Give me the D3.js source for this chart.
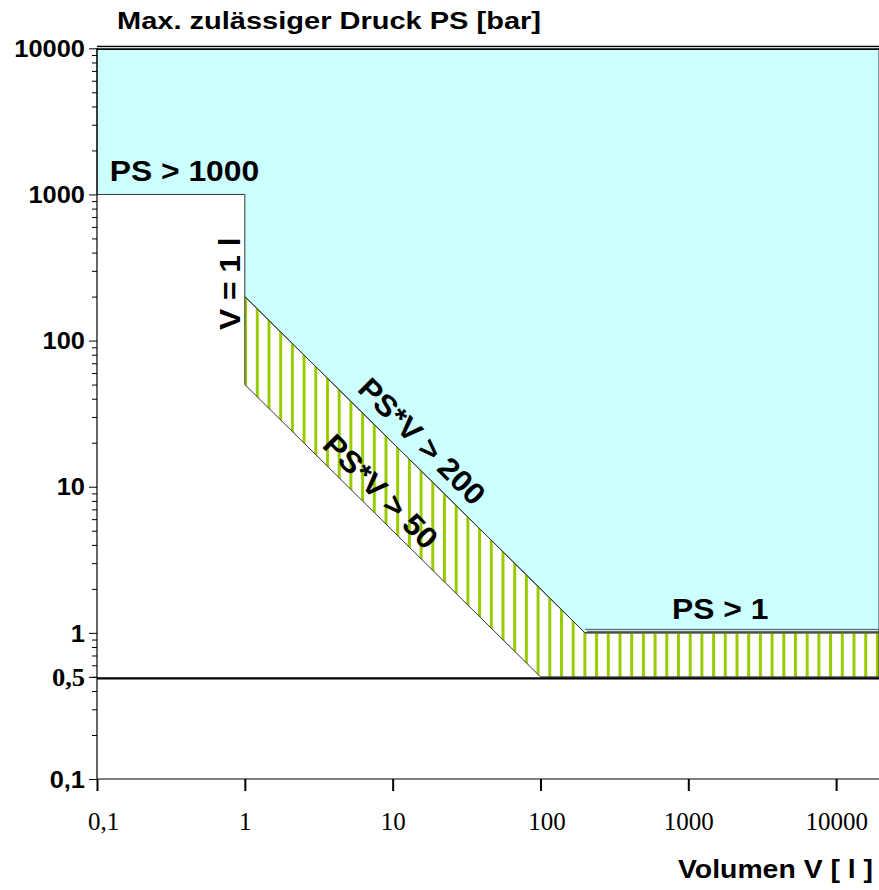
<!DOCTYPE html>
<html>
<head>
<meta charset="utf-8">
<script src="https://cdn.jsdelivr.net/npm/d3@7"></script>
<style>
  body { margin: 0; background: #fff; }
  svg { display: block; }
  .bold { font-family: "Liberation Sans", Arial, sans-serif; font-weight: bold; }
  .serif { font-family: "Liberation Serif", "Times New Roman", serif; }
</style>
</head>
<body>
<svg width="879" height="890"></svg>
<script>
// region outlines (Volumen V, Druck PS)
var cyanV  = [0.1, 19500, 19500, 200, 1, 1, 0.1];
var cyanPS = [10000, 10000, 1, 1, 200, 1000, 1000];
var hatchV  = [1, 200, 19500, 19500, 100, 1];
var hatchPS = [200, 1, 1, 0.5, 0.5, 50];

var xTicks = [0.1, 1, 10, 100, 1000, 10000];
var xTickLabels = ["0,1", "1", "10", "100", "1000", "10000"];
var yTicks = [10000, 1000, 100, 10, 1, 0.5, 0.1];
var yTickLabels = ["10000", "1000", "100", "10", "1", "0,5", "0,1"];

// annotations: text + anchor in data space
var labels = [
  {text: "PS > 1000", v: 0.122, ps: 1240, rot: 0, anchor: "start"},
  {text: "V = 1 l", v: 0.93, ps: 245, rot: -90, anchor: "middle"},
  {text: "PS*V > 200", v: 15.8, ps: 20.5, rot: 45, anchor: "middle", central: true},
  {text: "PS*V > 50", v: 8.3, ps: 9.3, rot: 45, anchor: "middle", central: true},
  {text: "PS > 1", v: 776, ps: 1.245, rot: 0, anchor: "start"}
];

var svg = d3.select("svg");

var x = d3.scaleLog().domain([0.1, 19500]).range([97, 879]);
var y = d3.scaleLog().domain([0.1, 10000]).range([779, 48.3]);

// stretch text horizontally like the original drawing
function stretch(sel, k) {
  sel.each(function() {
    var w = this.getComputedTextLength();
    d3.select(this).attr("textLength", w * k).attr("lengthAdjust", "spacingAndGlyphs");
  });
}

var defs = svg.append("defs");
var pat = defs.append("pattern")
    .attr("id", "hatch")
    .attr("patternUnits", "userSpaceOnUse")
    .attr("x", 255.8).attr("y", 0)
    .attr("width", 11.7).attr("height", 10);
pat.append("rect")
    .attr("x", 0).attr("y", 0)
    .attr("width", 3).attr("height", 10)
    .attr("fill", "#99cc00");

var line = d3.line()
    .x(function(d) { return x(d[0]); })
    .y(function(d) { return y(d[1]); });

var cyanPts = d3.zip(cyanV, cyanPS);
var hatchPts = d3.zip(hatchV, hatchPS);

svg.append("path")
    .attr("d", line(cyanPts) + "Z")
    .attr("fill", "#ccffff")
    .attr("stroke", "#333")
    .attr("stroke-width", 1);

svg.append("path")
    .attr("d", line(hatchPts) + "Z")
    .attr("fill", "url(#hatch)")
    .attr("stroke", "#333")
    .attr("stroke-width", 1);

// hatch top edge sits a little below the cyan edge along PS = 1
svg.append("line")
    .attr("x1", x(200) + 2).attr("x2", x(19500))
    .attr("y1", y(1) - 1.5).attr("y2", y(1) - 1.5)
    .attr("stroke", "#555").attr("stroke-width", 1);
svg.append("line")
    .attr("x1", x(200)).attr("x2", x(19500))
    .attr("y1", y(1) - 3.5).attr("y2", y(1) - 3.5)
    .attr("stroke", "#555").attr("stroke-width", 1);

// double line at top (10000)
svg.append("line")
    .attr("x1", x(0.1)).attr("x2", x(19500))
    .attr("y1", y(10000) - 2).attr("y2", y(10000) - 2)
    .attr("stroke", "#000").attr("stroke-width", 1.2);
svg.append("line")
    .attr("x1", x(0.1)).attr("x2", x(19500))
    .attr("y1", y(10000) + 1).attr("y2", y(10000) + 1)
    .attr("stroke", "#000").attr("stroke-width", 1.2);

// 0.5 bar limit line
svg.append("line")
    .attr("x1", x(0.1)).attr("x2", x(19500))
    .attr("y1", y(0.5) + 1.5).attr("y2", y(0.5) + 1.5)
    .attr("stroke", "#000").attr("stroke-width", 2.2);

// axes
var minorY = [];
[0.1, 1, 10, 100, 1000].forEach(function(b) {
  for (var k = 2; k <= 9; k++) minorY.push(b * k);
});

var yAxisMinor = d3.axisLeft(y).tickValues(minorY).tickSize(5).tickFormat("");
var gYm = svg.append("g").attr("transform", "translate(97,0)").call(yAxisMinor);
gYm.select(".domain").remove();

var yAxis = d3.axisLeft(y).tickValues(yTicks).tickSize(8)
    .tickFormat(function(d, i) { return yTickLabels[i]; });
var gY = svg.append("g").attr("transform", "translate(97,0)").call(yAxis);
gY.select(".domain").attr("d", "M0," + y(10000) + "V" + y(0.1)).attr("stroke-width", 1.2);
gY.selectAll(".tick text")
    .attr("class", "bold")
    .attr("font-size", 24)
    .attr("x", -12)
    .attr("dy", "0.34em")
    .attr("fill", "#000");
gY.selectAll(".tick text").filter(function(d) { return d === 0.5; })
    .attr("class", "serif")
    .attr("font-weight", "bold")
    .attr("font-size", 25);
stretch(gY.selectAll(".tick text"), 1.06);

var xAxis = d3.axisBottom(x).tickValues(xTicks).tickSize(12)
    .tickFormat(function(d, i) { return xTickLabels[i]; });
var gX = svg.append("g").attr("transform", "translate(0,779)").call(xAxis);
gX.select(".domain").attr("d", "M97,0H879").attr("stroke-width", 1.2);
gX.selectAll(".tick line").attr("stroke-width", 2);
gX.selectAll(".tick text")
    .attr("class", "serif")
    .attr("font-size", 25)
    .attr("y", 33)
    .attr("dy", "0.71em")
    .attr("fill", "#000");
gX.selectAll(".tick text").filter(function(d) { return d === 0.1 || d === 100; })
    .attr("x", 6);

// annotations
labels.forEach(function(l) {
  var px = x(l.v), py = y(l.ps);
  var t = svg.append("text")
      .attr("class", "bold")
      .attr("font-size", 30)
      .attr("text-anchor", l.anchor)
      .attr("dominant-baseline", l.central ? "central" : "auto")
      .attr("transform", "translate(" + px + "," + py + ") rotate(" + l.rot + ")")
      .text(l.text);
  stretch(t, 1.06);
});

// titles
var title = svg.append("text")
    .attr("class", "bold")
    .attr("font-size", 23)
    .attr("x", 117).attr("y", 29)
    .text("Max. zulässiger Druck PS [bar]");
title.attr("textLength", 424).attr("lengthAdjust", "spacingAndGlyphs");

var xTitle = svg.append("text")
    .attr("class", "bold")
    .attr("font-size", 25)
    .attr("text-anchor", "end")
    .attr("x", 873).attr("y", 878)
    .text("Volumen V [ l ]");
xTitle.attr("textLength", 195).attr("lengthAdjust", "spacingAndGlyphs");
</script>
</body>
</html>
